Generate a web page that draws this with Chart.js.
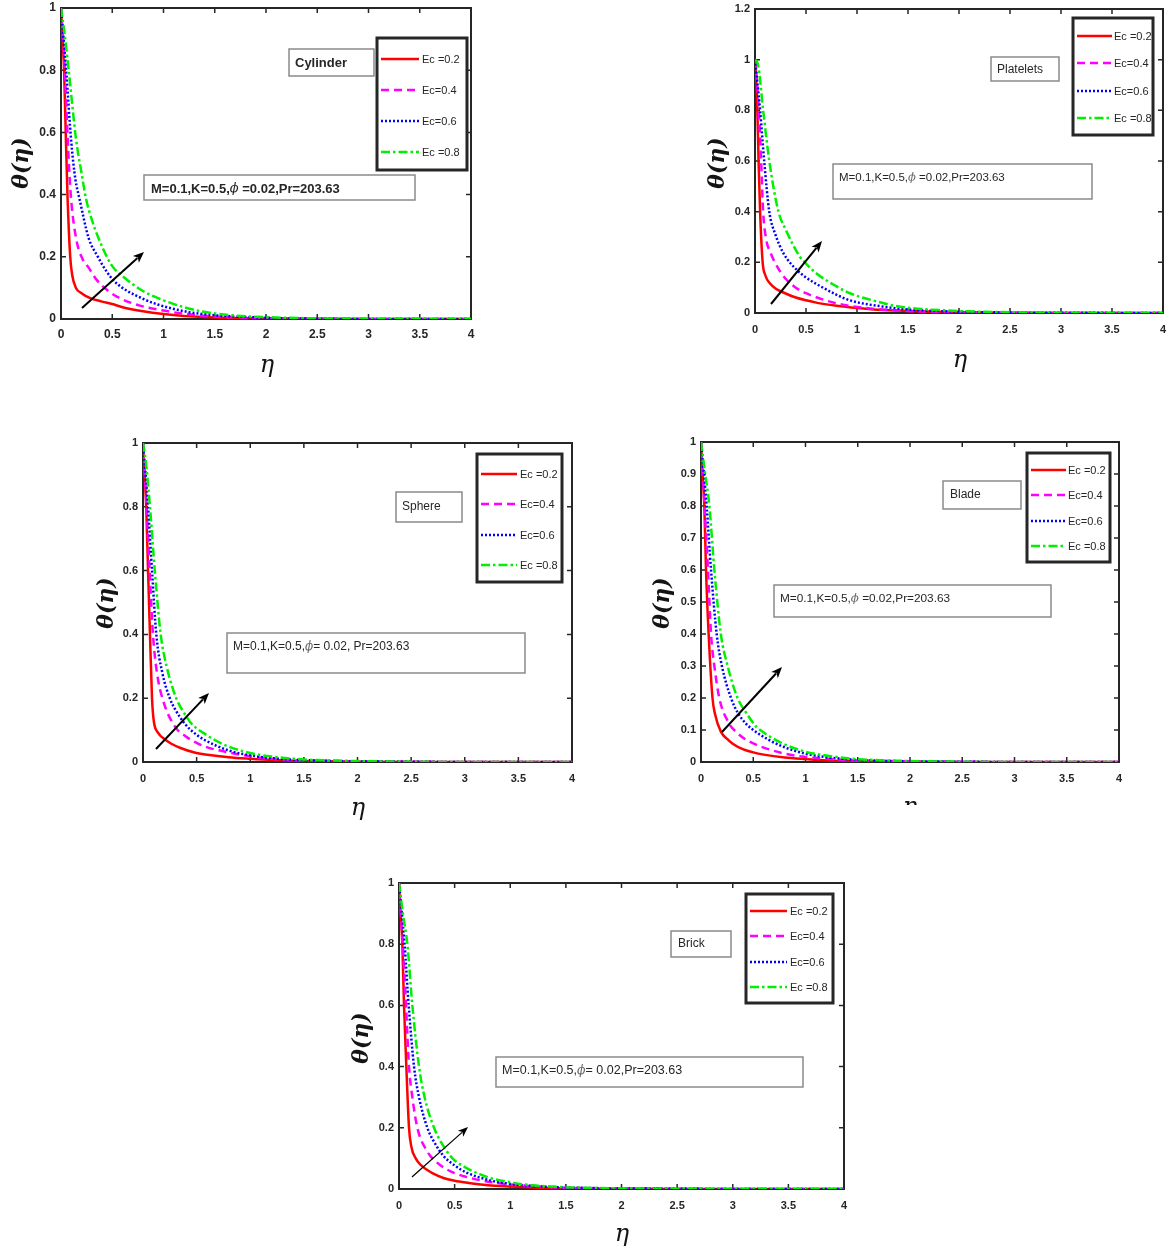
<!DOCTYPE html>
<html>
<head>
<meta charset="utf-8">
<script src="https://cdn.jsdelivr.net/npm/chart.js@4.4.1/dist/chart.umd.min.js"></script>
<style>
  html, body { margin: 0; padding: 0; background: #ffffff; }
  body { width: 1169px; height: 1249px; position: relative; overflow: hidden; }
  canvas { position: absolute; }
</style>
</head>
<body>
<canvas id="cylinder"></canvas>
<canvas id="platelets"></canvas>
<canvas id="sphere"></canvas>
<canvas id="blade"></canvas>
<canvas id="brick"></canvas>
<script>
// Legend labels for the four Eckert numbers
const ecLabels = ['Ec =0.2', 'Ec=0.4', 'Ec=0.6', 'Ec =0.8'];

// Axis tick values
const etaTicks = [0, 0.5, 1, 1.5, 2, 2.5, 3, 3.5, 4];
const thetaTicks = [0, 0.2, 0.4, 0.6, 0.8, 1];
const thetaTicksWide = [0, 0.2, 0.4, 0.6, 0.8, 1, 1.2];
const thetaTicksFine = [0, 0.1, 0.2, 0.3, 0.4, 0.5, 0.6, 0.7, 0.8, 0.9, 1];

// Temperature profiles θ(η), pairs of [η, θ]
// Cylinder
const cylinderEc02 = [[0,1],[0.015,0.9],[0.03,0.8],[0.046,0.6],[0.063,0.4],[0.09,0.2],[0.11,0.14],[0.146,0.1],[0.2,0.083],[0.28,0.068],[0.4,0.056],[0.5,0.048],[0.6,0.038],[0.8,0.025],[1.0,0.016],[1.2,0.01],[1.5,0.005],[2,0.002],[2.5,0.001],[3,0],[4,0]];
const cylinderEc04 = [[0,1],[0.03,0.85],[0.06,0.62],[0.08,0.48],[0.1,0.38],[0.15,0.255],[0.2,0.2],[0.27,0.165],[0.35,0.125],[0.47,0.088],[0.6,0.063],[0.77,0.043],[1.0,0.027],[1.2,0.017],[1.5,0.008],[2,0.003],[2.5,0.001],[3,0],[4,0]];
const cylinderEc06 = [[0,1],[0.05,0.8],[0.1,0.57],[0.14,0.45],[0.18,0.387],[0.27,0.26],[0.36,0.2],[0.44,0.155],[0.51,0.125],[0.6,0.1],[0.8,0.065],[0.93,0.048],[1.25,0.022],[1.5,0.012],[2,0.004],[2.5,0.001],[3,0],[4,0]];
const cylinderEc08 = [[0,1],[0.03,0.93],[0.075,0.8],[0.146,0.58],[0.2,0.47],[0.244,0.387],[0.3,0.32],[0.41,0.226],[0.5,0.17],[0.6,0.138],[0.8,0.09],[1.0,0.06],[1.2,0.038],[1.38,0.024],[1.67,0.012],[2,0.006],[2.5,0.002],[3,0.001],[4,0]];
// Platelets
const plateletsEc02 = [[0,1],[0.02,0.85],[0.035,0.6],[0.05,0.4],[0.075,0.2],[0.1,0.15],[0.15,0.115],[0.2,0.097],[0.3,0.077],[0.4,0.061],[0.5,0.05],[0.6,0.041],[0.8,0.029],[1.0,0.02],[1.2,0.013],[1.5,0.008],[2,0.003],[2.5,0.001],[3,0],[4,0]];
const plateletsEc04 = [[0,1],[0.03,0.85],[0.06,0.6],[0.08,0.4],[0.11,0.29],[0.15,0.24],[0.2,0.196],[0.3,0.135],[0.4,0.1],[0.5,0.078],[0.6,0.062],[0.8,0.038],[1.0,0.024],[1.2,0.015],[1.5,0.008],[2,0.003],[2.5,0.001],[3,0],[4,0]];
const plateletsEc06 = [[0,1],[0.05,0.8],[0.09,0.6],[0.14,0.4],[0.2,0.31],[0.28,0.235],[0.41,0.17],[0.5,0.14],[0.6,0.115],[0.8,0.072],[0.93,0.05],[1.26,0.025],[1.5,0.014],[2,0.005],[2.5,0.002],[3,0.001],[4,0]];
const plateletsEc08 = [[0,1],[0.03,0.98],[0.08,0.8],[0.14,0.6],[0.23,0.4],[0.3,0.33],[0.44,0.222],[0.5,0.195],[0.6,0.157],[0.8,0.105],[0.93,0.078],[1.2,0.045],[1.42,0.025],[2,0.008],[2.5,0.003],[3,0.001],[4,0]];
// Sphere
const sphereEc02 = [[0,1],[0.015,0.9],[0.03,0.8],[0.047,0.6],[0.065,0.4],[0.084,0.2],[0.1,0.13],[0.14,0.092],[0.2,0.072],[0.26,0.058],[0.35,0.044],[0.48,0.03],[0.6,0.023],[0.8,0.015],[1.0,0.01],[1.2,0.006],[1.5,0.003],[2,0.001],[2.5,0],[4,0]];
const sphereEc04 = [[0,1],[0.03,0.82],[0.062,0.6],[0.093,0.4],[0.13,0.28],[0.19,0.19],[0.3,0.11],[0.4,0.08],[0.5,0.06],[0.6,0.046],[0.8,0.03],[1.0,0.018],[1.2,0.01],[1.5,0.005],[2,0.002],[2.5,0.001],[3,0],[4,0]];
const sphereEc06 = [[0,1],[0.047,0.8],[0.084,0.6],[0.124,0.4],[0.18,0.28],[0.25,0.2],[0.3,0.165],[0.39,0.12],[0.5,0.085],[0.575,0.069],[0.8,0.036],[1.0,0.021],[1.2,0.012],[1.5,0.006],[2,0.002],[2.5,0.001],[3,0],[4,0]];
const sphereEc08 = [[0,1],[0.03,0.93],[0.065,0.8],[0.11,0.6],[0.165,0.4],[0.22,0.3],[0.31,0.2],[0.4,0.145],[0.45,0.121],[0.6,0.083],[0.67,0.069],[0.8,0.048],[1.0,0.028],[1.2,0.017],[1.5,0.008],[2,0.003],[2.5,0.001],[3,0],[4,0]];
// Blade
const bladeEc02 = [[0,1],[0.015,0.9],[0.032,0.8],[0.048,0.6],[0.073,0.4],[0.11,0.2],[0.134,0.15],[0.19,0.095],[0.25,0.072],[0.3,0.058],[0.4,0.04],[0.5,0.03],[0.6,0.023],[0.8,0.014],[1.0,0.009],[1.2,0.005],[1.5,0.003],[2,0.001],[2.5,0],[4,0]];
const bladeEc04 = [[0,1],[0.03,0.82],[0.067,0.6],[0.096,0.4],[0.128,0.3],[0.175,0.2],[0.27,0.12],[0.35,0.09],[0.43,0.07],[0.5,0.058],[0.6,0.045],[0.8,0.026],[1.0,0.016],[1.2,0.01],[1.5,0.005],[2,0.002],[2.5,0.001],[3,0],[4,0]];
const bladeEc06 = [[0,1],[0.054,0.8],[0.096,0.6],[0.15,0.4],[0.2,0.3],[0.287,0.2],[0.35,0.155],[0.43,0.12],[0.5,0.1],[0.65,0.069],[0.8,0.046],[1.0,0.026],[1.2,0.015],[1.5,0.007],[2,0.002],[2.5,0.001],[3,0],[4,0]];
const bladeEc08 = [[0,1],[0.04,0.9],[0.08,0.8],[0.128,0.6],[0.19,0.4],[0.255,0.3],[0.35,0.2],[0.43,0.155],[0.53,0.11],[0.6,0.092],[0.78,0.058],[1.0,0.032],[1.2,0.02],[1.5,0.009],[2,0.003],[2.5,0.001],[3,0],[4,0]];
// Brick
const brickEc02 = [[0,1],[0.015,0.9],[0.03,0.8],[0.045,0.6],[0.066,0.4],[0.09,0.2],[0.11,0.14],[0.15,0.1],[0.2,0.077],[0.255,0.062],[0.3,0.052],[0.4,0.036],[0.5,0.027],[0.6,0.021],[0.8,0.012],[1.0,0.008],[1.2,0.005],[1.5,0.002],[2,0.001],[2.5,0],[4,0]];
const brickEc04 = [[0,1],[0.03,0.82],[0.063,0.6],[0.09,0.4],[0.12,0.3],[0.165,0.2],[0.255,0.122],[0.33,0.09],[0.43,0.064],[0.5,0.052],[0.6,0.04],[0.8,0.024],[1.0,0.015],[1.2,0.009],[1.5,0.004],[2,0.002],[2.5,0.001],[3,0],[4,0]];
const brickEc06 = [[0,1],[0.05,0.8],[0.087,0.6],[0.135,0.4],[0.18,0.3],[0.255,0.2],[0.33,0.145],[0.4,0.108],[0.5,0.077],[0.61,0.053],[0.8,0.03],[0.91,0.021],[1.2,0.01],[1.5,0.005],[2,0.002],[2.5,0.001],[3,0],[4,0]];
const brickEc08 = [[0,1],[0.035,0.9],[0.075,0.8],[0.12,0.6],[0.18,0.4],[0.23,0.3],[0.315,0.2],[0.4,0.14],[0.49,0.097],[0.6,0.07],[0.73,0.048],[0.8,0.038],[1.03,0.02],[1.2,0.012],[1.5,0.006],[2,0.002],[2.5,0.001],[3,0],[4,0]];

// Line styles for the four series
const lineStyles = [
  { color: '#ff0000', dash: [],             width: 2.5 },
  { color: '#ff00ff', dash: [8, 5],         width: 2.5 },
  { color: '#0000ff', dash: [2, 2],         width: 2.5 },
  { color: '#00f000', dash: [9, 3, 2.5, 3], width: 2.5 }
];

const INK = '#262626';
const SANS = '"Liberation Sans", Arial, sans-serif';
const SERIF = '"DejaVu Serif", serif';

// Layout of each panel (page pixel coordinates)
const panels = [
  {
    id: 'cylinder', frame: [61, 8, 471, 319], yMax: 1, yTicks: thetaTicks, tickSize: 12, tickPad: 8,
    series: [cylinderEc02, cylinderEc04, cylinderEc06, cylinderEc08],
    legend: { box: [377, 38, 467, 170], rows: [59, 90, 121, 152], line: [381, 419], textX: 422 },
    tag: { text: 'Cylinder', box: [289, 49, 374, 76], x: 295, y: 63, font: 'bold 13px ' },
    params: { parts: ['M=0.1,K=0.5,', 'ϕ', ' =0.02,Pr=203.63'], box: [144, 175, 415, 200], x: 151, y: 189, bold: true, size: 13 },
    arrow: { from: [82, 308], to: [144, 252], width: 2 },
    yTitle: [22, 163], xTitle: [267, 366], bottomExtra: 60
  },
  {
    id: 'platelets', frame: [755, 9, 1163, 313], yMax: 1.2, yTicks: thetaTicksWide, tickSize: 11, tickPad: 10,
    series: [plateletsEc02, plateletsEc04, plateletsEc06, plateletsEc08],
    legend: { box: [1073, 18, 1153, 135], rows: [36, 63, 91, 118], line: [1077, 1112], textX: 1114 },
    tag: { text: 'Platelets', box: [991, 57, 1059, 81], x: 997, y: 70, font: '12px ' },
    params: { parts: ['M=0.1,K=0.5,', 'ϕ', ' =0.02,Pr=203.63'], box: [833, 164, 1092, 199], x: 839, y: 178, bold: false, size: 11.5 },
    arrow: { from: [771, 304], to: [822, 241], width: 2 },
    yTitle: [718, 163], xTitle: [960, 361], bottomExtra: 60
  },
  {
    id: 'sphere', frame: [143, 443, 572, 762], yMax: 1, yTicks: thetaTicks, tickSize: 11, tickPad: 10,
    series: [sphereEc02, sphereEc04, sphereEc06, sphereEc08],
    legend: { box: [477, 454, 562, 582], rows: [474, 504, 535, 565], line: [481, 517], textX: 520 },
    tag: { text: 'Sphere', box: [396, 492, 462, 522], x: 402, y: 507, font: '12px ' },
    params: { parts: ['M=0.1,K=0.5,', 'ϕ', '= 0.02, Pr=203.63'], box: [227, 633, 525, 673], x: 233, y: 647, bold: false, size: 12 },
    arrow: { from: [156, 749], to: [209, 693], width: 2 },
    yTitle: [107, 603], xTitle: [358, 809], bottomExtra: 60
  },
  {
    id: 'blade', frame: [701, 442, 1119, 762], yMax: 1, yTicks: thetaTicksFine, tickSize: 11, tickPad: 10,
    series: [bladeEc02, bladeEc04, bladeEc06, bladeEc08],
    legend: { box: [1027, 453, 1110, 562], rows: [470, 495, 521, 546], line: [1031, 1066], textX: 1068 },
    tag: { text: 'Blade', box: [943, 481, 1021, 509], x: 950, y: 495, font: '12px ' },
    params: { parts: ['M=0.1,K=0.5,', 'ϕ', ' =0.02,Pr=203.63'], box: [774, 585, 1051, 617], x: 780, y: 599, bold: false, size: 11.8 },
    arrow: { from: [722, 732], to: [782, 667], width: 2 },
    yTitle: [663, 603], xTitle: [910, 808], bottomExtra: 43
  },
  {
    id: 'brick', frame: [399, 883, 844, 1189], yMax: 1, yTicks: thetaTicks, tickSize: 11, tickPad: 10,
    series: [brickEc02, brickEc04, brickEc06, brickEc08],
    legend: { box: [746, 894, 833, 1003], rows: [911, 936, 962, 987], line: [750, 787], textX: 790 },
    tag: { text: 'Brick', box: [671, 931, 731, 957], x: 678, y: 944, font: '12px ' },
    params: { parts: ['M=0.1,K=0.5,', 'ϕ', '= 0.02,Pr=203.63'], box: [496, 1057, 803, 1087], x: 502, y: 1071, bold: false, size: 12.5 },
    arrow: { from: [412, 1177], to: [468, 1127], width: 1.2 },
    yTitle: [362, 1038], xTitle: [622, 1235], bottomExtra: 60
  }
];

const Y_AXIS_W = 55, X_AXIS_H = 30, PAD_TOP = 8, PAD_RIGHT = 12;
const panelById = {};

function drawArrow(ctx, a) {
  const [x0, y0] = a.from, [x1, y1] = a.to;
  const ang = Math.atan2(y1 - y0, x1 - x0);
  const head = a.width > 1.5 ? 11 : 10, half = a.width > 1.5 ? 4.5 : 4;
  const c = Math.cos(ang), s = Math.sin(ang);
  ctx.strokeStyle = '#000';
  ctx.fillStyle = '#000';
  ctx.lineWidth = a.width;
  ctx.setLineDash([]);
  ctx.beginPath();
  ctx.moveTo(x0, y0);
  ctx.lineTo(x1 - c * head * 0.8, y1 - s * head * 0.8);
  ctx.stroke();
  ctx.beginPath();
  ctx.moveTo(x1, y1);
  ctx.lineTo(x1 - c * head + s * half, y1 - s * head - c * half);
  ctx.lineTo(x1 - c * head * 0.75, y1 - s * head * 0.75);
  ctx.lineTo(x1 - c * head - s * half, y1 - s * head + c * half);
  ctx.closePath();
  ctx.fill();
}

function grayBox(ctx, b) {
  ctx.fillStyle = '#ffffff';
  ctx.fillRect(b[0], b[1], b[2] - b[0], b[3] - b[1]);
  ctx.strokeStyle = '#8a8a8a';
  ctx.lineWidth = 1.5;
  ctx.setLineDash([]);
  ctx.strokeRect(b[0], b[1], b[2] - b[0], b[3] - b[1]);
}

// MATLAB-style box axes with inward ticks, plus legend and annotations
const panelDecor = {
  id: 'panelDecor',
  beforeDatasetsDraw(chart) {
    const { ctx, chartArea: a } = chart;
    const xs = chart.scales.x, ys = chart.scales.y;
    ctx.save();
    ctx.strokeStyle = INK;
    ctx.lineWidth = 2;
    ctx.strokeRect(a.left, a.top, a.right - a.left, a.bottom - a.top);
    ctx.lineWidth = 1.5;
    ctx.beginPath();
    xs.ticks.forEach(t => {
      const p = xs.getPixelForValue(t.value);
      ctx.moveTo(p, a.bottom); ctx.lineTo(p, a.bottom - 5);
      ctx.moveTo(p, a.top); ctx.lineTo(p, a.top + 5);
    });
    ys.ticks.forEach(t => {
      const p = ys.getPixelForValue(t.value);
      ctx.moveTo(a.left, p); ctx.lineTo(a.left + 5, p);
      ctx.moveTo(a.right, p); ctx.lineTo(a.right - 5, p);
    });
    ctx.stroke();
    ctx.restore();
  },
  afterDatasetsDraw(chart) {
    const p = panelById[chart.canvas.id];
    const ctx = chart.ctx;
    ctx.save();
    ctx.translate(-p.origin[0], -p.origin[1]);

    // legend
    const L = p.legend;
    ctx.fillStyle = '#ffffff';
    ctx.fillRect(L.box[0], L.box[1], L.box[2] - L.box[0], L.box[3] - L.box[1]);
    ctx.strokeStyle = INK;
    ctx.lineWidth = 3;
    ctx.strokeRect(L.box[0], L.box[1], L.box[2] - L.box[0], L.box[3] - L.box[1]);
    chart.data.datasets.forEach((ds, i) => {
      const y = L.rows[i];
      ctx.strokeStyle = ds.borderColor;
      ctx.lineWidth = ds.borderWidth;
      ctx.setLineDash(ds.borderDash);
      ctx.beginPath();
      ctx.moveTo(L.line[0], y);
      ctx.lineTo(L.line[1], y);
      ctx.stroke();
      ctx.setLineDash([]);
      ctx.fillStyle = INK;
      ctx.font = '11px ' + SANS;
      ctx.textAlign = 'left';
      ctx.textBaseline = 'middle';
      ctx.fillText(ds.label, L.textX, y + 0.5);
    });

    // shape tag
    const T = p.tag;
    grayBox(ctx, T.box);
    ctx.fillStyle = INK;
    ctx.font = T.font + SANS;
    ctx.textAlign = 'left';
    ctx.textBaseline = 'middle';
    ctx.fillText(T.text, T.x, T.y);

    // parameter box
    const P = p.params;
    grayBox(ctx, P.box);
    let x = P.x;
    const sansFont = (P.bold ? 'bold ' : '') + P.size + 'px ' + SANS;
    const phiFont = 'italic ' + P.size + 'px ' + SERIF;
    P.parts.forEach((part, i) => {
      ctx.font = i === 1 ? phiFont : sansFont;
      ctx.fillStyle = i === 1 && !P.bold ? '#6a6a6a' : INK;
      ctx.fillText(part, x, P.y);
      x += ctx.measureText(part).width;
    });

    drawArrow(ctx, p.arrow);
    ctx.restore();
  },
  afterDraw(chart) {
    const p = panelById[chart.canvas.id];
    const ctx = chart.ctx;
    ctx.save();
    ctx.translate(-p.origin[0], -p.origin[1]);
    ctx.fillStyle = '#141414';
    ctx.textAlign = 'center';
    ctx.textBaseline = 'middle';
    // y-axis title
    ctx.save();
    ctx.translate(p.yTitle[0], p.yTitle[1]);
    ctx.rotate(-Math.PI / 2);
    ctx.font = 'italic bold 22px ' + SERIF;
    ctx.fillText('θ(η)', 0, 0);
    ctx.restore();
    // x-axis title
    ctx.font = 'italic 24px ' + SERIF;
    ctx.fillText('η', p.xTitle[0], p.xTitle[1]);
    ctx.restore();
  }
};

panels.forEach(p => {
  const [L, T, R, B] = p.frame;
  const left = L - Y_AXIS_W, top = T - PAD_TOP;
  const width = R - L + Y_AXIS_W + PAD_RIGHT;
  const height = B - T + PAD_TOP + p.bottomExtra;
  p.origin = [left, top];
  panelById[p.id] = p;

  const canvas = document.getElementById(p.id);
  canvas.width = width;
  canvas.height = height;
  canvas.style.left = left + 'px';
  canvas.style.top = top + 'px';
  canvas.style.width = width + 'px';
  canvas.style.height = height + 'px';

  const tickFont = { family: SANS, size: p.tickSize, weight: 'bold' };

  new Chart(canvas, {
    type: 'line',
    data: {
      datasets: p.series.map((pts, i) => ({
        label: ecLabels[i],
        data: pts,
        borderColor: lineStyles[i].color,
        borderDash: lineStyles[i].dash,
        borderWidth: lineStyles[i].width,
        pointRadius: 0,
        fill: false,
        cubicInterpolationMode: 'monotone',
        order: 4 - i
      }))
    },
    options: {
      responsive: false,
      animation: false,
      devicePixelRatio: 1,
      layout: { padding: { left: 0, top: PAD_TOP, right: PAD_RIGHT, bottom: p.bottomExtra - X_AXIS_H } },
      plugins: { legend: { display: false }, tooltip: { enabled: false } },
      scales: {
        x: {
          type: 'linear', min: 0, max: 4,
          grid: { display: false, drawTicks: false },
          border: { display: false },
          afterBuildTicks: s => { s.ticks = etaTicks.map(v => ({ value: v })); },
          afterFit: s => { s.height = X_AXIS_H; s.paddingLeft = 0; s.paddingRight = 0; },
          ticks: { font: tickFont, color: INK, padding: p.tickPad, maxRotation: 0, autoSkip: false, callback: v => String(v) }
        },
        y: {
          type: 'linear', min: 0, max: p.yMax,
          grid: { display: false, drawTicks: false },
          border: { display: false },
          afterBuildTicks: s => { s.ticks = p.yTicks.map(v => ({ value: v })); },
          afterFit: s => { s.width = Y_AXIS_W; s.paddingTop = 0; s.paddingBottom = 0; },
          ticks: { font: tickFont, color: INK, padding: 5, autoSkip: false, callback: v => String(v) }
        }
      }
    },
    plugins: [panelDecor]
  });
});
</script>
</body>
</html>
